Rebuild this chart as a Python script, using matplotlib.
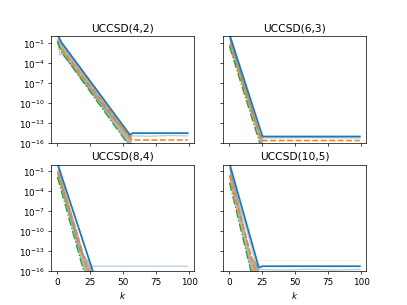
import matplotlib
matplotlib.use('Agg')
import matplotlib.pyplot as plt
import matplotlib.ticker as mticker

# panel titles
titles = ['UCCSD(4,2)', 'UCCSD(6,3)', 'UCCSD(8,4)', 'UCCSD(10,5)']

# solid blue series (knots)
blue_k = [[0, 3, 54, 55, 57, 99], [0, 25, 26, 99], [0, 27, 28], [0, 22, 23, 25, 99]]
blue_v = [[2.0, 1.3e-1, 3.5e-15, 1.8e-15, 3.2e-15, 3.2e-15],
          [2.0, 1.2e-15, 1.0e-15, 1.0e-15],
          [1.6, 1e-16, 2e-17],
          [1.6, 6e-16, 4e-16, 6e-16, 6e-16]]

# dashed orange series
orange_k = [[0, 2, 56, 57, 99], [0, 24, 25, 99], [0, 1, 23.5, 25], [0, 19.6, 21]]
orange_v = [[1.8e-1, 2.5e-2, 4e-16, 3e-16, 3e-16],
            [6e-2, 4e-16, 2.5e-16, 2.5e-16],
            [5.6e-2, 2.5e-2, 1e-16, 1e-17],
            [2.5e-2, 1e-16, 1e-17]]

# dash-dot green series
green_k = [[0, 3, 53, 55], [0, 23, 24], [0, 20, 21], [0, 16.3, 17]]
green_v = [[1.6e-1, 5e-3, 1e-16, 3e-17],
           [3e-2, 1e-16, 2e-17],
           [1.4e-2, 1e-16, 2e-17],
           [2e-3, 1e-16, 1e-17]]

# grey spread band
band_k = [[0, 3, 53, 56], [0, 23, 25], [0, 20, 27], [0, 16, 22]]
band_lo = [[1.5e-1, 4e-3, 1e-16, 1e-17],
           [3e-2, 1e-16, 1e-17],
           [1.4e-2, 1e-16, 1e-17],
           [2e-3, 1e-16, 1e-17]]
band_hi = [[1.5, 1e-1, 4e-15, 2e-15],
           [2.0, 3e-15, 1e-15],
           [1.5, 3e-14, 1e-16],
           [1.5, 3e-14, 6e-16]]

# faint light-blue runs
light_k = [[0, 2, 3, 40, 54, 55, 56, 70, 85, 99],
           [0, 24, 25, 60, 99],
           [0, 14, 16, 18, 26, 27, 99],
           [0, 21, 22, 40, 60, 80, 99]]
light_v = [[3e-1, 1.5e-3, 3e-3, 2e-12, 2e-15, 6e-16, 1.3e-15, 1.1e-15, 1.4e-15, 1.2e-15],
           [5e-1, 1e-15, 6e-16, 7e-16, 6e-16],
           [1e-1, 3e-11, 5e-13, 8e-14, 6e-16, 6e-16, 6e-16],
           [3e-1, 4e-16, 2e-16, 1.5e-16, 2.2e-16, 1.6e-16, 2e-16]]

# faint orange floor (only last panel)
faint_k = [20, 99]
faint_v = [6e-15, 6e-15]

fig, axes = plt.subplots(2, 2, sharex=True, sharey=True, figsize=(6.4, 4.8), dpi=63.6)

for i, ax in enumerate(axes.flat):
    ax.fill_between(band_k[i], band_lo[i], band_hi[i], color='gray', alpha=0.6, lw=0)
    ax.plot(light_k[i], light_v[i], color='C0', alpha=0.35, lw=1.5)
    if i == 3:
        ax.plot(faint_k, faint_v, color='C1', alpha=0.15, lw=1)
    ax.plot(blue_k[i], blue_v[i], color='C0', lw=2)
    ax.plot(orange_k[i], orange_v[i], color='C1', ls='--', lw=1.8)
    ax.plot(green_k[i], green_v[i], color='C2', ls='-.', lw=1.5)
    ax.set_title(titles[i])
    ax.set_yscale('log')
    ax.set_ylim(1e-16, 1)
    ax.set_xlim(-4.95, 103.95)

axes[0, 0].set_yticks([1e-16, 1e-13, 1e-10, 1e-7, 1e-4, 1e-1])
axes[0, 0].yaxis.set_minor_locator(mticker.NullLocator())
axes[0, 0].set_xticks([0, 25, 50, 75, 100])
for ax in axes[1]:
    ax.set_xlabel('$k$')

plt.savefig('out.png')
